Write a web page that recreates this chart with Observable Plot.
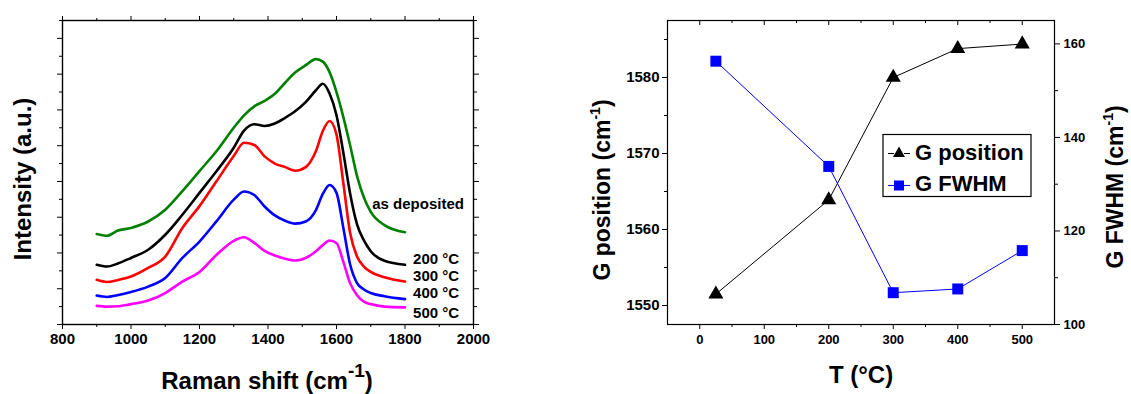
<!DOCTYPE html>
<html><head><meta charset="utf-8">
<script src="https://cdn.jsdelivr.net/npm/d3@7"></script>
<script src="https://cdn.jsdelivr.net/npm/@observablehq/plot@0.6"></script>
<style>
html,body{margin:0;padding:0;background:#fff;}
#wrap{position:relative;width:1131px;height:394px;overflow:hidden;background:#fff;}
#wrap svg{position:absolute;top:0;}
</style></head><body><div id="wrap"></div>
<script>
// ---------- Left panel data: Raman spectra (arbitrary units, stacked) ----------
const ramanShift = [900, 930, 960, 1000, 1050, 1100, 1150, 1200, 1250, 1300, 1330, 1360, 1390, 1420, 1450, 1480, 1510, 1540, 1560, 1580, 1600, 1620, 1640, 1660, 1680, 1700, 1740, 1800];
const asDeposited = [2.53, 2.48, 2.62, 2.70, 2.88, 3.21, 3.73, 4.29, 4.85, 5.50, 5.85, 6.10, 6.25, 6.45, 6.76, 7.05, 7.25, 7.42, 7.35, 7.05, 6.50, 5.80, 5.00, 4.15, 3.55, 3.15, 2.78, 2.58];
const anneal200 = [1.67, 1.62, 1.70, 1.86, 2.09, 2.51, 3.07, 3.68, 4.29, 4.94, 5.42, 5.60, 5.55, 5.62, 5.78, 5.97, 6.22, 6.55, 6.73, 6.45, 5.85, 4.80, 3.65, 2.80, 2.35, 2.05, 1.78, 1.67];
const anneal300 = [1.25, 1.19, 1.24, 1.34, 1.58, 1.90, 2.70, 3.31, 4.01, 4.71, 5.08, 5.02, 4.70, 4.50, 4.40, 4.30, 4.40, 4.85, 5.41, 5.69, 5.31, 3.95, 2.55, 1.90, 1.62, 1.47, 1.32, 1.20];
const anneal400 = [0.81, 0.77, 0.82, 0.91, 1.06, 1.30, 1.86, 2.32, 2.89, 3.49, 3.72, 3.62, 3.30, 3.05, 2.90, 2.82, 2.88, 3.20, 3.65, 3.90, 3.68, 2.70, 1.67, 1.16, 0.98, 0.88, 0.79, 0.71];
const anneal500 = [0.52, 0.50, 0.51, 0.57, 0.67, 0.88, 1.20, 1.47, 1.95, 2.34, 2.44, 2.28, 2.06, 1.93, 1.84, 1.79, 1.86, 2.05, 2.22, 2.35, 2.28, 1.75, 1.15, 0.82, 0.64, 0.57, 0.50, 0.48];
const seriesNames = ["as deposited", "200 °C", "300 °C", "400 °C", "500 °C"];
const ramanTicks = [800, 1000, 1200, 1400, 1600, 1800, 2000];
const ramanMinorTicks = [900, 1100, 1300, 1500, 1700, 1900];

// ---------- Right panel data: G peak vs temperature ----------
const temperature = [25, 200, 300, 400, 500];
const gPosition = [1551.5, 1563.9, 1580.0, 1583.8, 1584.4];
const gFwhm = [156.3, 133.8, 106.8, 107.6, 115.8];
const tTicks = [0, 100, 200, 300, 400, 500];
const tMinorTicks = [50, 150, 250, 350, 450];
const gPosTicks = [1550, 1560, 1570, 1580];
const gPosMinorTicks = [1555, 1565, 1575, 1585];
const fwhmTicks = [100, 120, 140, 160];
const fwhmMinorTicks = [110, 130, 150];

// ---------- styling ----------
const FONT = "'Liberation Sans', Arial, Helvetica, sans-serif";
const seriesColors = ["#008000", "#000000", "#ff0000", "#0000ff", "#ff00ff"];
const spectra = [asDeposited, anneal200, anneal300, anneal400, anneal500];
const labelAnchor = {x: [1972, 1958, 1958, 1958, 1958], y: [3.36, 1.84, 1.35, 0.87, 0.31]};
const none = () => "";
const plain = d3.format("d");

const wrap = document.getElementById("wrap");

// ---------- Left plot ----------
const left = Plot.plot({
  width: 560, height: 394,
  marginLeft: 62, marginRight: 87, marginTop: 20, marginBottom: 70,
  style: {fontFamily: FONT, fontWeight: "bold", fontSize: "15px", color: "black", background: "transparent", overflow: "visible"},
  x: {domain: [800, 2000]},
  y: {domain: [0, 8.5]},
  marks: [
    ...spectra.map((vals, k) => Plot.line(ramanShift, {
      x: d => d, y: (d, i) => vals[i], stroke: seriesColors[k], strokeWidth: 2.6, curve: "monotone-x"
    })),
    Plot.text(seriesNames, {x: (d, i) => labelAnchor.x[i], y: (d, i) => labelAnchor.y[i], text: d => d, textAnchor: "end", fontSize: 15, fontWeight: "bold", fill: "black"}),
    Plot.axisX({anchor: "bottom", ticks: ramanTicks, tickFormat: plain, tickSize: 5, tickPadding: 4, fontSize: 15, label: null}),
    Plot.axisX({anchor: "bottom", ticks: ramanMinorTicks, tickSize: 3, tickFormat: none, label: null}),
    Plot.axisX({anchor: "top", ticks: ramanTicks, tickSize: 5, tickFormat: none, label: null}),
    Plot.axisX({anchor: "top", ticks: ramanMinorTicks, tickSize: 3, tickFormat: none, label: null}),
    Plot.axisY({anchor: "left", ticks: d3.range(0, 9, 1), tickSize: 5, tickFormat: none, label: null}),
    Plot.axisY({anchor: "left", ticks: d3.range(0.5, 8.6, 1), tickSize: 3, tickFormat: none, label: null}),
    Plot.axisY({anchor: "right", ticks: d3.range(0, 9, 1), tickSize: 5, tickFormat: none, label: null}),
    Plot.axisY({anchor: "right", ticks: d3.range(0.5, 8.6, 1), tickSize: 3, tickFormat: none, label: null}),
    Plot.frame({stroke: "black", strokeWidth: 1.4})
  ]
});
left.style.left = "0px";
wrap.appendChild(left);

// ---------- Right plot ----------
const posDomain = [1547.5, 1587.5];
const fwhmDomain = [100, 165];
const toY = f => posDomain[0] + (f - fwhmDomain[0]) * (posDomain[1] - posDomain[0]) / (fwhmDomain[1] - fwhmDomain[0]);
const fromY = y => fwhmDomain[0] + (y - posDomain[0]) * (fwhmDomain[1] - fwhmDomain[0]) / (posDomain[1] - posDomain[0]);
const innerH = 394 - 20 - 70;

const right = Plot.plot({
  width: 571, height: 394,
  marginLeft: 107, marginRight: 77, marginTop: 20, marginBottom: 70,
  style: {fontFamily: FONT, fontWeight: "bold", fontSize: "13px", color: "black", background: "transparent", overflow: "visible"},
  x: {domain: [-50, 550]},
  y: {domain: posDomain},
  marks: [
    Plot.line(temperature, {x: d => d, y: (d, i) => gPosition[i], stroke: "black", strokeWidth: 1}),
    Plot.line(temperature, {x: d => d, y: (d, i) => toY(gFwhm[i]), stroke: "#0000ff", strokeWidth: 1}),
    Plot.dot(temperature, {x: d => d, y: (d, i) => gPosition[i], symbol: "triangle", r: 5.6, fill: "black", stroke: "none"}),
    Plot.dot(temperature, {x: d => d, y: (d, i) => toY(gFwhm[i]), symbol: "square", r: 6.2, fill: "#0000ff", stroke: "none"}),
    Plot.axisX({anchor: "bottom", ticks: tTicks, tickFormat: plain, tickSize: 5, tickPadding: 5, fontSize: 13, label: null}),
    Plot.axisX({anchor: "bottom", ticks: tMinorTicks, tickSize: 3, tickFormat: none, label: null}),
    Plot.tickX(tTicks, {x: d => d, insetBottom: innerH - 5, stroke: "black"}),
    Plot.tickX(tMinorTicks, {x: d => d, insetBottom: innerH - 3, stroke: "black"}),
    Plot.axisY({anchor: "left", ticks: gPosTicks, tickFormat: plain, tickSize: 5, tickPadding: 3, fontSize: 15, label: null}),
    Plot.axisY({anchor: "left", ticks: gPosMinorTicks, tickSize: 3, tickFormat: none, label: null}),
    Plot.axisY({anchor: "right", ticks: fwhmTicks.map(toY), tickFormat: y => String(Math.round(fromY(y))), tickSize: 5, tickPadding: 4, fontSize: 13, label: null}),
    Plot.axisY({anchor: "right", ticks: fwhmMinorTicks.map(toY), tickSize: 3, tickFormat: none, label: null}),
    Plot.frame({stroke: "black", strokeWidth: 1.2})
  ]
});
right.style.left = "560px";
wrap.appendChild(right);

// ---------- Axis titles (with superscripts) ----------
function title(svg, {x, y, rotate = 0, size, text, sup, supSize, supDy, tail}) {
  const t = d3.select(svg).append("text")
    .attr("transform", `translate(${x},${y}) rotate(${rotate})`)
    .attr("text-anchor", "middle")
    .attr("font-family", FONT).attr("font-weight", "bold")
    .attr("font-size", size).attr("fill", "black");
  t.append("tspan").text(text);
  if (sup) {
    t.append("tspan").attr("font-size", supSize).attr("dy", supDy).text(sup);
    t.append("tspan").attr("dy", -supDy).text(tail);
  }
}
title(left, {x: 31, y: 179, rotate: -90, size: 24, text: "Intensity (a.u.)"});
title(left, {x: 267, y: 389, size: 24, text: "Raman shift (cm", sup: "-1", supSize: 19, supDy: -12, tail: ")"});
title(right, {x: 610 - 560, y: 190, rotate: -90, size: 23, text: "G position (cm", sup: "-1", supSize: 14, supDy: -10, tail: ")"});
title(right, {x: 1123 - 560, y: 187, rotate: -90, size: 23, text: "G FWHM (cm", sup: "-1", supSize: 14, supDy: -10, tail: ")"});
title(right, {x: 861 - 560, y: 383, size: 24, text: "T (°C)"});

// ---------- Legend (right panel) ----------
const lg = d3.select(right).append("g").attr("font-family", FONT).attr("font-weight", "bold").attr("text-anchor", "start");
lg.append("rect").attr("x", 323).attr("y", 134.5).attr("width", 148).attr("height", 62)
  .attr("fill", "white").attr("stroke", "black").attr("stroke-width", 1.2);
[[153.5, "black", d3.symbolTriangle, 62, "G position", 160], [185.5, "#0000ff", d3.symbolSquare, 100, "G FWHM", 191]].forEach(([cy, col, sym, area, label, base]) => {
  lg.append("line").attr("x1", 328).attr("x2", 334).attr("y1", cy).attr("y2", cy).attr("stroke", col).attr("stroke-width", 1);
  lg.append("line").attr("x1", 344).attr("x2", 350).attr("y1", cy).attr("y2", cy).attr("stroke", col).attr("stroke-width", 1);
  lg.append("path").attr("d", d3.symbol(sym, area)()).attr("transform", `translate(339,${cy})`).attr("fill", col);
  lg.append("text").attr("x", 355).attr("y", base).attr("font-size", 22).attr("fill", "black").attr("text-anchor", "start").text(label);
});
</script>
</body></html>
